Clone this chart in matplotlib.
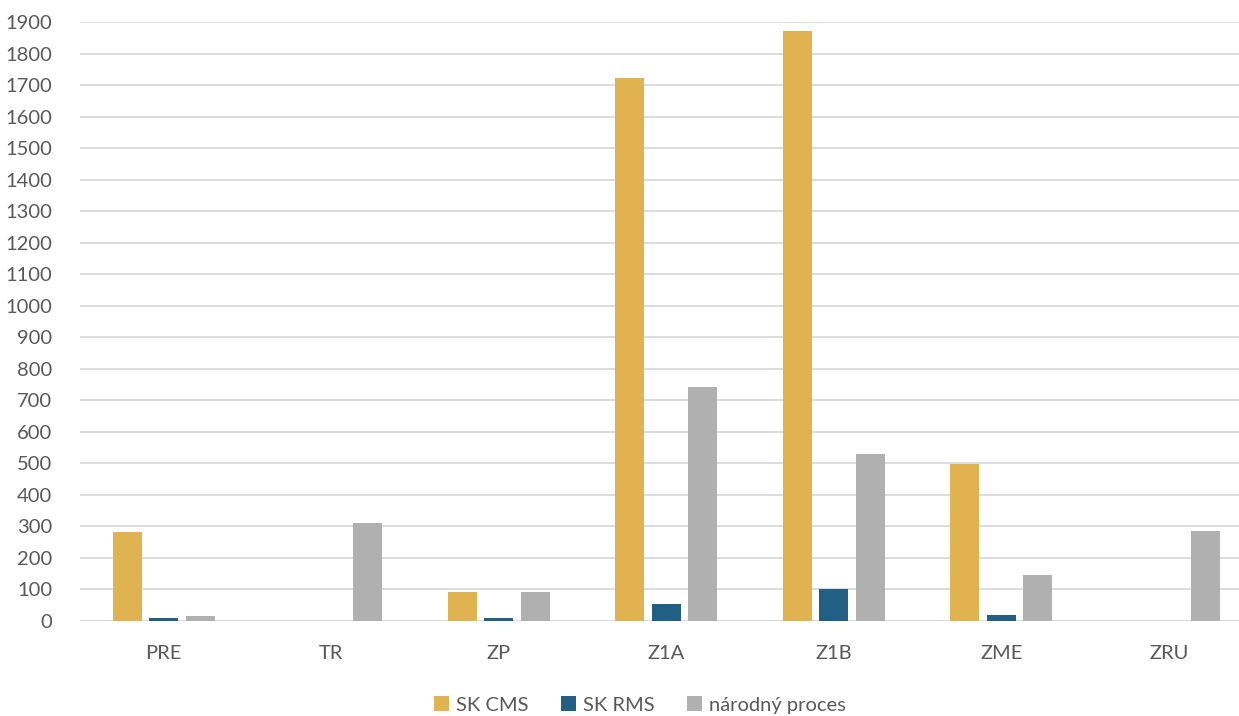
import numpy as np
import matplotlib.pyplot as plt

plt.rcParams['font.family'] = ['Lato', 'DejaVu Sans']

categories = ['PRE', 'TR', 'ZP', 'Z1A', 'Z1B', 'ZME', 'ZRU']
sk_cms = [282, 0, 91, 1722, 1870, 498, 0]
sk_rms = [11, 0, 8, 53, 100, 20, 0]
narodny = [15, 311, 91, 742, 531, 146, 286]

series = [('SK CMS', sk_cms, '#E1B250'),
          ('SK RMS', sk_rms, '#215F85'),
          ('národný proces', narodny, '#B0B0B0')]

W, H = 1239, 716
fig = plt.figure(figsize=(W / 100, H / 100), dpi=100)
# plot area runs a little past the right edge of the canvas
ax = fig.add_axes([80 / W, 95 / H, 7 * 167.5 / W, (621 - 22) / H])

x = np.arange(len(categories))
step = 0.218
width = 0.173
for i, (name, vals, col) in enumerate(series):
    ax.bar(x + (i - 1) * step, vals, width, color=col, label=name, zorder=3)

ax.set_xlim(-0.5, len(categories) - 0.5)
ax.set_ylim(0, 1900)
ax.set_yticks(np.arange(0, 2000, 100))
ax.set_xticks(x)
ax.set_xticklabels(categories)
ax.yaxis.grid(True, color='#D9D9D9', linewidth=1.3, zorder=0)
for s in ax.spines.values():
    s.set_visible(False)
ax.tick_params(length=0, labelsize=14.5, colors='#595959')
ax.tick_params(axis='x', pad=17)
ax.tick_params(axis='y', pad=20)

fig.legend(loc='center', bbox_to_anchor=(640 / W, 1 - 705 / H), ncol=3, frameon=False,
           fontsize=14.5, labelcolor='#595959', handlelength=0.75, handleheight=0.75,
           handletextpad=0.35, columnspacing=1.6)

fig.savefig('out.png', dpi=100)
